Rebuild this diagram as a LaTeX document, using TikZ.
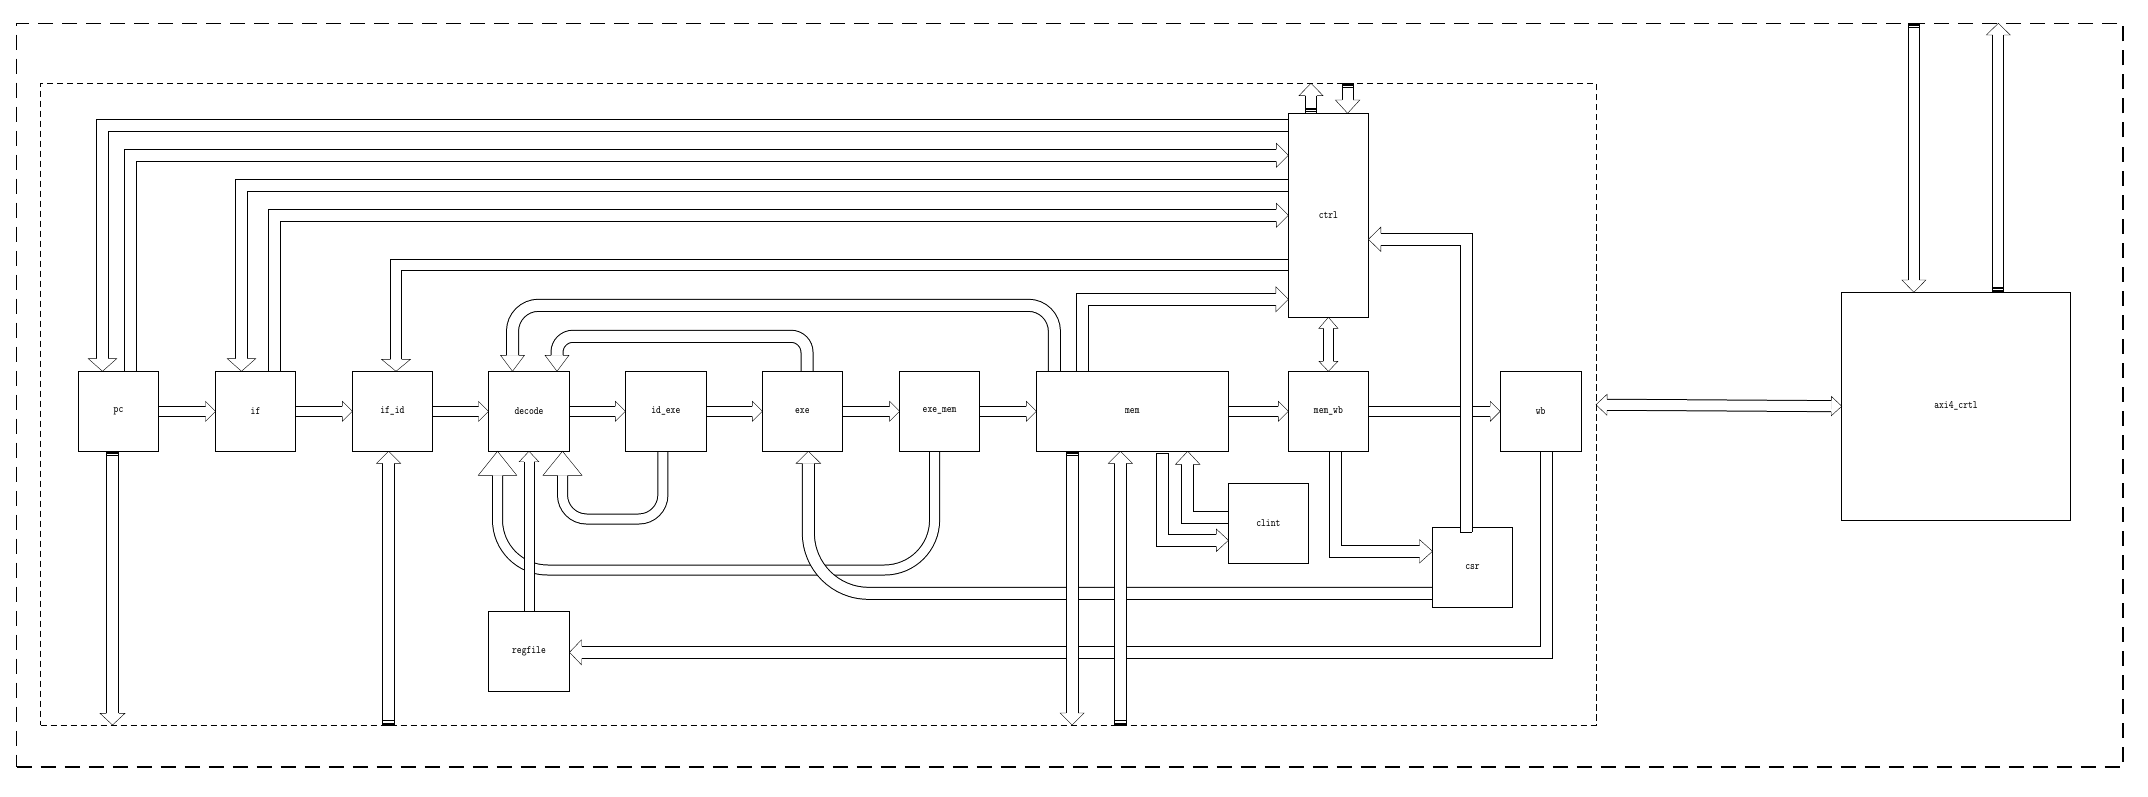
\documentclass[tikz,border=0pt]{standalone}
\usepackage{graphicx}
\usetikzlibrary{calc}
\pgfdeclarelayer{back}
\pgfdeclarelayer{front}
\pgfsetlayers{back,main,front}

% block label: small typewriter text, slightly stretched vertically
\newcommand\tx[1]{\scalebox{1}[1.22]{#1}}

% open arrow head: tip point, direction, half shaft width, half head width, head length
\newcommand\ahead[5]{%
  \begin{scope}[shift={#1}, rotate=#2]
    \fill[white] (0,0) -- (-#5,#4) -- (-#5,-#4) -- cycle;
    \draw (-#5,#3) -- (-#5,#4) -- (0,0) -- (-#5,-#4) -- (-#5,-#3);
  \end{scope}}

% bus tail marks: tail point, direction, half shaft width
\newcommand\tmark[3]{%
  \begin{scope}[shift={#1}, rotate=#2]
    \draw[line width=1.1pt] (0,-#3) -- (0,#3);
    \draw[line width=1.6pt] (1.6,-#3) -- (1.6,#3);
    \draw[line width=1.3pt] (4.4,-#3) -- (4.4,#3);
  \end{scope}}

\begin{document}
\begin{tikzpicture}[x=1pt, y=-1pt, line width=1pt,
  blk/.style={draw, line width=1.1pt, minimum width=80pt, minimum height=80pt,
              inner sep=0pt, outer sep=0pt, font=\ttfamily\fontsize{9.2}{10}\selectfont},
  frameout/.style={draw, dash pattern=on 15pt off 9pt, line width=1.4pt, inner sep=0pt, outer sep=0pt},
  framein/.style={draw, dash pattern=on 6.5pt off 3.5pt, line width=1pt, inner sep=0pt, outer sep=0pt},
  shaft/.style={line width=1pt, double=white, double distance=#1}]

\useasboundingbox (0,0) rectangle (2148,797);

% frames
\node[frameout, minimum width=2106.5pt, minimum height=743.7pt] (soc) at (1069.75,395.15) {};
\node[framein, minimum width=1555.5pt, minimum height=641.7pt] (core) at (818.25,404.15) {};

% pipeline and support blocks
\node[blk] (pc) at (118.5,411.3) {\tx{pc}};
\node[blk] (if) at (255.5,411.3) {\tx{if}};
\node[blk] (ifid) at (392.4,411.3) {\tx{if\_id}};
\node[blk, minimum width=81pt] (decode) at (529,411.3) {\tx{decode}};
\node[blk, minimum width=81pt] (idexe) at (665.9,411.3) {\tx{id\_exe}};
\node[blk] (exe) at (802.4,411.3) {\tx{exe}};
\node[blk] (exemem) at (939.6,411.3) {\tx{exe\_mem}};
\node[blk, minimum width=192pt] (mem) at (1132.4,411.3) {\tx{mem}};
\node[blk] (memwb) at (1328.4,411.3) {\tx{mem\_wb}};
\node[blk, minimum width=81pt] (wb) at (1540.7,411.3) {\tx{wb}};
\node[blk, minimum height=204pt] (ctrl) at (1328.4,215.3) {\tx{ctrl}};
\node[blk, minimum width=228.5pt, minimum height=228pt] (axi) at (1956,406.3) {\tx{axi4\_crtl}};
\node[blk] (csr) at (1472.5,567.3) {\tx{csr}};
\node[blk] (clint) at (1268.4,523.3) {\tx{clint}};
\node[blk, minimum width=81pt] (regfile) at (529,651.3) {\tx{regfile}};

\begin{pgfonlayer}{back}
% pipeline flow
\foreach \a/\b in {pc/if, if/ifid, ifid/decode, decode/idexe, idexe/exe, exe/exemem, exemem/mem, mem/memwb, memwb/wb} {
  \draw[shaft=9pt] (\a.east) -- ($(\b.west)+(-10,0)$);
  \ahead{(\b.west)}{0}{5}{10}{10}
}

% ctrl buses
\draw[shaft=11pt] ($(ctrl.west)+(0,-90)$) -| ($(pc.north)+(-16,-12.7)$);
\ahead{($(pc.north)+(-16,0)$)}{270}{6}{14.3}{12.7}
\draw[shaft=11pt] ($(pc.north)+(12,0)$) |- ($(ctrl.west)+(-12,-60)$);
\ahead{($(ctrl.west)+(0,-60)$)}{0}{6}{12}{12}
\draw[shaft=11pt] ($(ctrl.west)+(0,-30)$) -| ($(if.north)+(-14,-12.7)$);
\ahead{($(if.north)+(-14,0)$)}{270}{6}{14.3}{12.7}
\draw[shaft=11pt] ($(if.north)+(19,0)$) |- ($(ctrl.west)+(-12,0)$);
\ahead{(ctrl.west)}{0}{6}{12}{12}
\draw[shaft=10pt] ($(ctrl.west)+(0,49.5)$) -| ($(ifid.north)+(3.6,-12)$);
\ahead{($(ifid.north)+(3.6,0)$)}{270}{5.5}{14.5}{12}
\draw[shaft=11pt] ($(mem.north)+(-50,0)$) |- ($(ctrl.west)+(-12.5,84)$);
\ahead{($(ctrl.west)+(0,84)$)}{0}{6}{12.5}{12.5}

% forwarding into decode
\draw[shaft=11pt, rounded corners=26pt] ($(mem.north)+(-78,0)$) -- ($(mem.north)+(-78,-66)$)
  -- ($(decode.north)+(-16.5,-66)$) -- ($(decode.north)+(-16.5,-16)$);
\ahead{($(decode.north)+(-16.5,0)$)}{270}{6}{12}{16}
\draw[shaft=11pt, rounded corners=16pt] ($(exe.north)+(4.6,0)$) -- ($(exe.north)+(4.6,-35)$)
  -- ($(decode.north)+(28,-35)$) -- ($(decode.north)+(28,-16)$);
\ahead{($(decode.north)+(28,0)$)}{270}{6}{12}{16}
\draw[shaft=9pt, rounded corners=24pt] ($(idexe.south)+(-3,0)$) -- ($(idexe.south)+(-3,67.7)$)
  -- ($(decode.south)+(33.5,67.7)$) -- ($(decode.south)+(33.5,24)$);
\ahead{($(decode.south)+(33.5,0)$)}{90}{5}{19.5}{24}
\draw[shaft=9pt, rounded corners=50pt] ($(exemem.south)+(-5,0)$) -- ($(exemem.south)+(-5,118.7)$)
  -- ($(decode.south)+(-31.5,118.7)$) -- ($(decode.south)+(-31.5,24)$);
\ahead{($(decode.south)+(-31.5,0)$)}{90}{5}{19.2}{24}

% csr back to exe
\draw[shaft=11pt, rounded corners=60pt] ($(csr.west)+(0,26)$) -| ($(exe.south)+(6,12)$);
\ahead{($(exe.south)+(6,0)$)}{90}{6}{12.2}{12}

% write back into regfile
\draw[shaft=11pt] ($(wb.south)+(5.8,0)$) |- ($(regfile.east)+(12,1)$);
\ahead{($(regfile.east)+(0,1)$)}{180}{6}{12.5}{12}

% regfile read port
\draw[shaft=9pt] (regfile.north) -- ($(decode.south)+(0,10.4)$);
\ahead{(decode.south)}{90}{5}{9.8}{10.4}

% buses leaving the core
\draw[shaft=11.5pt] ($(pc.south)+(-6,0)$) -- ($(pc.south)+(-6,262)$);
\ahead{($(pc.south)+(-6,273.7)$)}{270}{6.25}{12.5}{11.7}
\tmark{($(pc.south)+(-6,0)$)}{270}{6.25}
\draw[shaft=11pt] ($(ifid.south)+(-3.8,273.7)$) -- ($(ifid.south)+(-3.8,12)$);
\ahead{($(ifid.south)+(-3.8,0)$)}{90}{6}{12}{12}
\tmark{($(ifid.south)+(-3.8,273.7)$)}{90}{6}
\draw[shaft=11pt] ($(mem.south)+(-60.2,0)$) -- ($(mem.south)+(-60.2,261.7)$);
\ahead{($(mem.south)+(-60.2,273.7)$)}{270}{6}{12}{12}
\tmark{($(mem.south)+(-60.2,0)$)}{270}{6}
\draw[shaft=11pt] ($(mem.south)+(-12,273.7)$) -- ($(mem.south)+(-12,12)$);
\ahead{($(mem.south)+(-12,0)$)}{90}{6}{12}{12}
\tmark{($(mem.south)+(-12,273.7)$)}{90}{6}

% clint
\draw[shaft=11pt] ($(clint.west)+(0,-6.3)$) -| ($(mem.south)+(55.3,13)$);
\ahead{($(mem.south)+(55.3,0)$)}{90}{6}{12.2}{13}
\draw[shaft=11pt] ($(mem.south)+(30,2)$) |- ($(clint.west)+(-12,17)$);
\ahead{($(clint.west)+(0,17)$)}{0}{6}{11.2}{12}
\draw ($(mem.south)+(24,2)$) -- ($(mem.south)+(36,2)$);

% mem_wb to csr
\draw[shaft=11pt] ($(memwb.south)+(7.2,0)$) |- ($(csr.west)+(-13,-16)$);
\ahead{($(csr.west)+(0,-16)$)}{0}{6}{11.7}{13}

% ctrl and mem_wb
\draw[shaft=9pt] ($(ctrl.south)+(0,11)$) -- ($(memwb.north)+(0,-10)$);
\ahead{(ctrl.south)}{90}{5}{9.5}{11}
\ahead{(memwb.north)}{270}{5}{9.5}{10}

% ctrl external ports
\draw[shaft=10.5pt] ($(ctrl.north)+(-17.4,0)$) -- ($(ctrl.north)+(-17.4,-17.6)$);
\ahead{($(ctrl.north)+(-17.4,-30)$)}{90}{5.75}{12.1}{12.4}
\tmark{($(ctrl.north)+(-17.4,0)$)}{90}{5.75}
\draw[shaft=10pt] ($(ctrl.north)+(19.2,-30)$) -- ($(ctrl.north)+(19.2,-13.3)$);
\ahead{($(ctrl.north)+(19.2,0)$)}{270}{5.5}{12.2}{13.3}
\tmark{($(ctrl.north)+(19.2,-30)$)}{270}{5.5}

% axi4 ports
\draw[shaft=10pt] ($(axi.north)+(-42.1,-269)$) -- ($(axi.north)+(-42.1,-12.3)$);
\ahead{($(axi.north)+(-42.1,0)$)}{270}{5.5}{12}{12.3}
\tmark{($(axi.north)+(-42.1,-269)$)}{270}{5.5}
\draw[shaft=10pt] ($(axi.north)+(42.3,0)$) -- ($(axi.north)+(42.3,-257.3)$);
\ahead{($(axi.north)+(42.3,-269)$)}{90}{5.5}{12}{11.7}
\tmark{($(axi.north)+(42.3,0)$)}{90}{5.5}

% core to axi4
\draw[shaft=10pt] ($(core.east)+(11,0.6)$) -- ($(axi.west)+(-10.5,-0.15)$);
\ahead{($(core.east)+(0,0.55)$)}{179.65}{5.5}{10.5}{11}
\ahead{($(axi.west)+(0,-0.1)$)}{-0.35}{5.5}{9.75}{10.5}
\end{pgfonlayer}

\begin{pgfonlayer}{front}
% csr to ctrl
\draw[shaft=11pt] ($(csr.north)+(-6.4,4.4)$) |- ($(ctrl.east)+(12.5,24)$);
\ahead{($(ctrl.east)+(0,24)$)}{180}{6}{12.2}{12.5}
\draw ($(csr.north)+(-12.4,4.4)$) -- ($(csr.north)+(-0.4,4.4)$);
\end{pgfonlayer}

\end{tikzpicture}
\end{document}
